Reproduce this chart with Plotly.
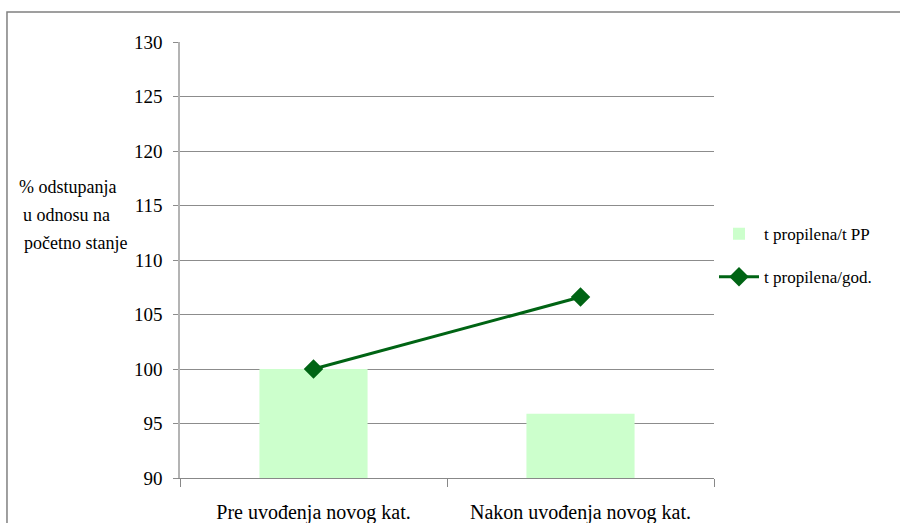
import plotly.graph_objects as go

categories = ["Pre uvođenja novog kat.", "Nakon uvođenja novog kat."]
bar_name = "t propilena/t PP"
bar_values = [100.0, 95.9]
line_name = "t propilena/god."
line_values = [100.0, 106.6]
y_ticks = [90, 95, 100, 105, 110, 115, 120, 125, 130]

FONT = "Liberation Serif"

fig = go.Figure()
fig.add_trace(go.Bar(
    x=categories, y=bar_values, name=bar_name,
    marker=dict(color="#CCFFCC", line=dict(width=0)),
    width=0.405, legendgroup="a",
))
fig.add_trace(go.Scatter(
    x=categories, y=line_values, name=line_name, mode="lines+markers",
    line=dict(color="#006414", width=3),
    marker=dict(symbol="diamond", size=15, color="#006414"),
    legendgroup="b",
))

fig.update_layout(
    width=900, height=523,
    margin=dict(l=180, r=186, t=42, b=45),
    paper_bgcolor="white", plot_bgcolor="white",
    font=dict(family=FONT, color="black", size=18),
    showlegend=True,
    legend=dict(
        x=1.0, xanchor="left", y=0.51, yanchor="middle",
        font=dict(family=FONT, size=17, color="black"),
        itemwidth=40, traceorder="grouped", tracegroupgap=18,
        bgcolor="rgba(0,0,0,0)",
    ),
    xaxis=dict(
        type="category", range=[-0.5, 1.5], automargin=False,
        showgrid=False, showline=True, linecolor="#888888", linewidth=1,
        ticks="outside", ticklen=8, tickcolor="#888888", tickson="boundaries",
        tickfont=dict(family=FONT, size=20, color="black"),
        ticklabelstandoff=16,
    ),
    yaxis=dict(
        range=[90, 130], tickvals=y_ticks, ticktext=[str(v) for v in y_ticks],
        automargin=False,
        showgrid=True, gridcolor="#8c8c8c", gridwidth=1,
        showline=True, linecolor="#b4b4b4", linewidth=1.5,
        ticks="outside", ticklen=5, tickcolor="#8c8c8c",
        tickfont=dict(family=FONT, size=19, color="black"),
        ticklabelstandoff=7,
        zeroline=False,
    ),
    shapes=[dict(
        type="rect", xref="paper", yref="paper",
        x0=-0.324, x1=1.45, y0=-0.3, y1=1.0688,
        line=dict(color="#808080", width=1.5), layer="below",
    )],
)

title_lines = [("% odstupanja", 17, 187), ("u odnosu na", 21, 215), ("početno stanje", 22, 243)]
for txt, px, py in title_lines:
    fig.add_annotation(
        text=txt, xref="paper", yref="paper",
        x=(px - 180) / 534, y=1 - (py - 42) / 436,
        xanchor="left", yanchor="middle", showarrow=False,
        font=dict(family=FONT, size=18, color="black"),
    )

fig.write_html("out.html")
